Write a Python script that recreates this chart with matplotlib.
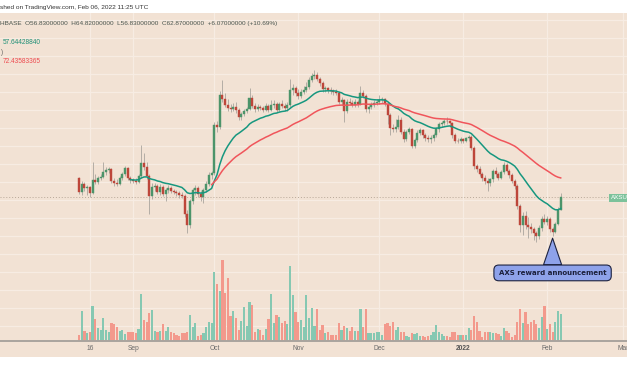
import numpy as np
import pandas as pd
import matplotlib
matplotlib.use("Agg")
import matplotlib.pyplot as plt
import matplotlib.dates as mdates
from matplotlib.patches import Rectangle
from matplotlib.ticker import NullLocator

# daily AXS/USD candles, 2021-08-12 .. 2022-02-06
OPEN = [72.5, 65.5, 69.5, 67.5, 68, 65, 71.5, 70.5, 73, 73.5, 76, 77.5, 78, 71, 70, 69.5, 72.5, 75, 78.5, 72.5,
        71.5, 71, 70.5, 74, 81.5, 79, 74, 63.5, 68, 68.5, 65.5, 68, 64.5, 66.5, 67.5, 66, 65.5, 65, 64, 63.5,
        55, 50.5, 61, 66.5, 67.5, 64.5, 63, 66.5, 69.5, 74.5, 75.5, 109, 108, 138, 134, 128, 125, 124, 126, 123,
        116, 119, 122, 124, 135, 127, 124, 126, 125, 123, 127, 123, 128, 129, 123, 129, 127, 125, 128, 143,
        145, 140, 137, 141, 143, 146, 155, 160, 161, 156, 151, 144, 145, 143, 142, 141, 140, 131, 133, 122,
        131, 130, 128, 131, 129, 140, 137, 124, 126, 128, 130, 131, 133, 133.5, 129, 118, 107, 106, 108, 114,
        104, 98, 104, 106, 93, 97.5, 103, 105, 101, 99, 98, 99, 101, 106, 110, 111, 113, 112.5, 111, 101,
        97, 96.5, 98, 97, 99, 100, 92, 80, 78, 75, 73, 71, 70, 72, 77, 75, 73, 76, 80.5, 77,
        74.5, 71, 68.5, 58.5, 50.5, 54.5, 50.5, 50, 49, 47.5, 46.5, 49.5, 53, 52, 53, 49, 48, 51, 56.83]
HIGH = [73.5, 71, 70.5, 69, 68.5, 82, 75, 74, 75, 82.5, 79, 79, 78.5, 73, 72, 74, 76, 79.5, 79, 74,
        73, 72.5, 75, 94, 88, 82, 75, 70, 70, 69.5, 69.5, 69, 67.5, 69, 68.5, 67, 66.5, 66, 65.5, 64.5,
        57, 62, 67.5, 69, 68.5, 66, 67.5, 71, 76, 77, 112, 113, 142, 155, 140, 134, 129, 130, 131, 125,
        121, 124, 126, 145, 138, 130, 129, 128, 127, 130, 129, 133, 133, 131, 131, 133, 130, 131, 156, 150,
        148, 144, 144, 148, 152, 158, 163, 167, 165, 158, 153, 148, 147, 147, 144, 144, 142, 136, 134, 134,
        135, 133, 134, 133, 148, 143, 139, 128, 131, 133, 134, 138, 136, 135, 131, 120, 110, 115, 118, 116,
        106, 105, 108, 107, 99, 105, 107, 106, 103, 101, 101, 103, 108, 112, 113, 115, 116, 114, 112, 103,
        99, 100, 99, 100, 101, 101, 93, 81, 80, 76, 74.5, 73, 73, 78, 79, 76, 77.5, 82.5, 81.5, 78,
        75.5, 72, 69.5, 59.5, 56, 56.5, 54, 51.5, 50, 48.5, 50.5, 54.5, 55, 54.5, 54, 50, 52, 58, 64.82]
LOW = [64.5, 64, 66, 64, 63, 64.5, 69.5, 69.5, 71.5, 72.5, 74.5, 75.5, 70, 68.5, 68.5, 69, 71.5, 74, 71.5, 70,
       70, 69.5, 70, 73, 77.5, 72, 55, 62, 66, 64.5, 64, 63.5, 61, 65, 65, 64.5, 63.5, 62.5, 62.5, 54,
       47.5, 49.5, 59.5, 64, 63, 61, 60, 65.5, 68.5, 72, 74.5, 104, 106, 131, 126, 122, 121, 122, 120, 114,
       114, 117, 120, 123, 125, 121, 122, 123, 121, 122, 121, 122, 125, 121, 122, 125, 122, 122, 126, 138,
       137, 134, 135, 139, 141, 144, 152, 156, 153, 148, 141, 141, 140, 139, 138, 138, 129, 128, 112, 120,
       128, 126, 126, 126, 128, 135, 121, 120, 124, 126, 128, 129, 130, 127, 110, 101, 104, 104, 106, 102,
       96, 97, 102, 92, 92, 96, 101, 99, 97, 96, 95, 97, 100, 104, 108, 109, 110, 108, 99, 95,
       95, 95, 95, 96, 97, 90, 78, 76, 74, 71, 69.5, 66, 68.5, 70.5, 73.5, 71.5, 72, 75, 76, 73,
       70, 67, 57.5, 48, 47, 49, 46, 47.5, 45, 44.5, 45.5, 48.5, 51, 50.5, 48, 46.5, 47.5, 50.5, 56.83]
CLOSE = [65.5, 69.5, 67.5, 68, 65, 71.5, 70.5, 73, 73.5, 76, 77.5, 78, 71, 70, 69.5, 72.5, 75, 78.5, 72.5, 71.5,
         71, 70.5, 74, 81.5, 79, 74, 63.5, 68, 68.5, 65.5, 68, 64.5, 66.5, 67.5, 66, 65.5, 65, 64, 63.5, 55,
         50.5, 61, 66.5, 67.5, 64.5, 63, 66.5, 69.5, 74.5, 75.5, 109, 108, 138, 134, 128, 125, 124, 126, 123, 116,
         119, 122, 124, 135, 127, 124, 126, 125, 123, 127, 123, 128, 129, 123, 129, 127, 125, 128, 143, 145,
         140, 137, 141, 143, 146, 155, 160, 161, 156, 151, 144, 145, 143, 142, 141, 140, 131, 133, 122, 131,
         130, 128, 131, 129, 140, 137, 124, 126, 128, 130, 131, 133, 133.5, 129, 118, 107, 106, 108, 114, 104,
         98, 104, 106, 93, 97.5, 103, 105, 101, 99, 98, 99, 101, 106, 110, 111, 113, 112.5, 111, 101, 97,
         96.5, 98, 97, 99, 100, 92, 80, 78, 75, 73, 71, 70, 72, 77, 75, 73, 76, 80.5, 77, 74.5,
         71, 68.5, 58.5, 50.5, 54.5, 50.5, 50, 49, 47.5, 46.5, 49.5, 53, 52, 53, 49, 48, 51, 56.8, 62.87]
VOLUME = [6, 30, 10, 8, 9, 35, 22, 13, 11, 23, 11, 9, 18, 17, 14, 10, 11, 7, 9, 9,
          9, 8, 12, 47, 21, 19, 28, 31, 10, 9, 10, 17, 10, 14, 9, 8, 6, 5, 8, 8,
          9, 26, 14, 18, 5, 6, 8, 14, 19, 18, 69, 57, 50, 81, 48, 63, 25, 30, 23, 11,
          20, 34, 15, 39, 36, 9, 12, 11, 6, 12, 22, 47, 18, 26, 24, 18, 20, 17, 75, 46,
          29, 19, 21, 14, 46, 23, 33, 15, 32, 11, 16, 8, 9, 6, 6, 6, 18, 11, 15, 13,
          10, 14, 10, 10, 32, 14, 32, 8, 8, 8, 9, 9, 6, 17, 18, 15, 19, 11, 14, 9,
          9, 5, 4, 8, 7, 8, 5, 5, 4, 5, 6, 9, 16, 9, 7, 5, 5, 4, 9, 9,
          6, 6, 6, 6, 13, 11, 25, 19, 10, 4, 9, 9, 9, 8, 8, 7, 5, 13, 10, 8,
          4, 6, 19, 32, 18, 29, 17, 19, 21, 17, 13, 24, 35, 12, 17, 9, 19, 30, 27]

TICK_DATES = ["2021-08-16", "2021-09-01", "2021-10-01", "2021-11-01", "2021-12-01",
              "2022-01-01", "2022-02-01", "2022-03-01"]
TICK_LABELS = ["16", "Sep", "Oct", "Nov", "Dec", "2022", "Feb", "Mar"]
GRID_PRICES = [23.3, 26.8, 30.8, 35.3, 40.6, 46.6, 53.5, 61.4, 70.6, 81, 93, 107, 123, 141, 162, 186, 214, 245]

BG = "#f2e2d4"
GRID = "#f7ece3"
UP, DOWN = "#4c946a", "#bd463a"
VUP, VDOWN = "#86c8b2", "#f3998c"
WICK = "#aaa59e"
EMA_FAST, EMA_SLOW = "#17977f", "#f0555b"

W, H = 627, 376


def fy(px):
    return 1 - px / H


def ema(vals, n):
    vals = np.asarray(vals, float)
    out = np.full(len(vals), np.nan)
    out[n - 1] = vals[:n].mean()
    a = 2.0 / (n + 1)
    for k in range(n, len(vals)):
        out[k] = a * vals[k] + (1 - a) * out[k - 1]
    return out


dates = pd.date_range("2021-08-12", periods=len(CLOSE), freq="D")
x = mdates.date2num(dates)
xlim = (x[0] - 29.2, x[0] + 202.5)
ylim = (20.77, 258.9)

o, h, l, c = map(np.asarray, (OPEN, HIGH, LOW, CLOSE))
up = c >= o

fig = plt.figure(figsize=(W / 100, H / 100), dpi=100)
fig.patches.append(Rectangle((0, fy(357)), 1, (357 - 13) / H, transform=fig.transFigure,
                             fc=BG, ec="none", zorder=-10))
rect = [0, fy(341), 1, (341 - 13) / H]

axg = fig.add_axes(rect)
axv = fig.add_axes(rect)
ax = fig.add_axes(rect)
for a in (axg, axv, ax):
    a.patch.set_alpha(0)
    a.set_xlim(xlim)
    for s in a.spines.values():
        s.set_visible(False)
    a.tick_params(left=False, right=False, top=False, bottom=False,
                  labelleft=False, labelbottom=False)

# grid layer
axg.set_yscale("log")
axg.set_ylim(ylim)
axg.set_yticks(GRID_PRICES)
axg.yaxis.set_minor_locator(NullLocator())
axg.set_xticks(mdates.date2num(pd.to_datetime(TICK_DATES)))
axg.grid(True, color=GRID, lw=0.9)

# volume layer
axv.bar(x, VOLUME, width=0.8, color=np.where(up, VUP, VDOWN), lw=0)
axv.set_ylim(0, 328)

# price layer
ax.set_yscale("log")
ax.set_ylim(ylim)
ax.yaxis.set_minor_locator(NullLocator())
ax.vlines(x, l, h, color=WICK, lw=0.6, zorder=2)
ax.bar(x, np.abs(c - o), bottom=np.minimum(o, c), width=0.74,
       color=np.where(up, UP, DOWN), edgecolor=np.where(up, UP, DOWN), lw=0.3, zorder=3)
ax.plot(x, ema(CLOSE, 20), color=EMA_FAST, lw=1.1, zorder=4)
ax.plot(x, ema(CLOSE, 50), color=EMA_SLOW, lw=1.1, zorder=4)
ax.axhline(CLOSE[-1], xmax=610 / W, color="#b8a898", lw=0.7, ls=(0, (1, 2)), zorder=1)

ax.spines["bottom"].set_visible(True)
ax.spines["bottom"].set_color("#aaa49e")
ax.spines["bottom"].set_linewidth(1.4)
ax.set_xticks(mdates.date2num(pd.to_datetime(TICK_DATES)))
ax.set_xticklabels(TICK_LABELS, fontsize=4.8, color="#6a6a6a", family="Liberation Sans")
ax.tick_params(labelbottom=True, length=0, pad=3)
for t in ax.get_xticklabels():
    if t.get_text() == "2022":
        t.set_fontweight("bold")
        t.set_color("#555555")

# callout on the low before the bounce
ax.annotate("AXS reward announcement", xy=(x[175], l[175] * 0.985), xytext=(0, -25),
            textcoords="offset points", ha="center", va="center",
            fontsize=5, fontweight="bold", color="#1b1f3a", zorder=6,
            bbox=dict(boxstyle="round,pad=0.7,rounding_size=0.7", fc="#8ea2ea", ec="#1c2240", lw=0.8),
            arrowprops=dict(arrowstyle="wedge,tail_width=2.6,shrink_factor=0.5",
                            fc="#8ea2ea", ec="#1c2240", lw=0.8, shrinkA=0, shrinkB=0))

# last-price tag on the cut-off price scale
fig.text(611 / W, fy(198), "AXSU", fontsize=4.5, color="white", va="center", ha="left",
         family="Liberation Sans",
         bbox=dict(boxstyle="square,pad=0.3", fc="#7cc29b", ec="none"))

# header lines
fig.text(0, fy(8), "shed on TradingView.com, Feb 06, 2022 11:25 UTC", fontsize=4.65,
         color="#333333", va="center", family="Liberation Sans")
fig.text(0, fy(24), "HBASE  O56.83000000  H64.82000000  L56.83000000  C62.87000000  +6.07000000 (+10.69%)",
         fontsize=4.6, color="#4a5650", va="center", family="Liberation Sans")
fig.text(3 / W, fy(42.5), "57.64428840", fontsize=4.7, color="#1e8f76", va="center", family="Liberation Sans")
fig.text(0, fy(52), ")", fontsize=4.7, color="#666666", va="center", family="Liberation Sans")
fig.text(3 / W, fy(61.5), "72.43583365", fontsize=4.7, color="#ee4a4f", va="center", family="Liberation Sans")

fig.savefig("out.png", dpi=100, facecolor="white")
